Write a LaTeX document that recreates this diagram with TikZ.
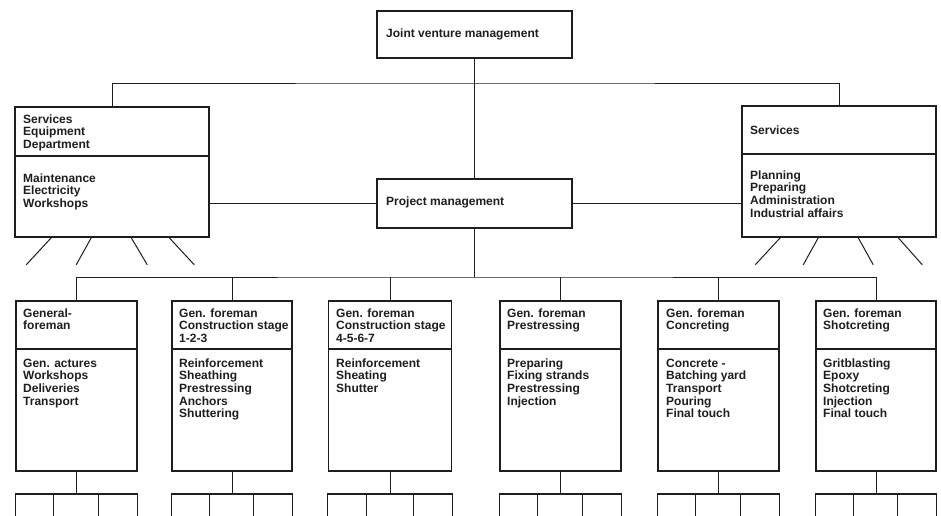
\documentclass[tikz,border=0pt]{standalone}
\usepackage{fontspec}
\setmainfont{Liberation Sans}
\definecolor{ink}{RGB}{30,30,30}
\begin{document}
\begin{tikzpicture}[x=1pt,y=-1pt,
  box/.style={draw=ink, line width=1.5pt, rectangle, inner sep=0pt},
  conn/.style={draw=ink, line width=1pt},
  cell/.style={draw=ink, line width=1.3pt},
  txt/.style={anchor=north west, inner sep=0pt, align=left, text=ink,
    font=\fontsize{12}{12.6}\selectfont\bfseries}]
\path[use as bounding box, fill=white] (0,0) rectangle (941,515);
\newcommand\fl{\rule{0pt}{9pt}}
% boxes
\node[box, minimum width=195pt, minimum height=47pt] (jv) at (474.5,34.5) {};
\node[box, minimum width=195pt, minimum height=49pt] (pm) at (474.5,203.5) {};
\node[box, minimum width=194pt, minimum height=130pt] (sed) at (112,172) {};
\node[box, minimum width=194pt, minimum height=131pt] (srv) at (839,171.5) {};
\node[box, minimum width=121pt, minimum height=170pt] (g1) at (76.5,386) {};
\node[box, minimum width=120pt, minimum height=170pt] (g2) at (232,386) {};
\node[box, minimum width=123pt, minimum height=170pt] (g3) at (390,386) {};
\node[box, minimum width=121pt, minimum height=170pt] (g4) at (560.5,386) {};
\node[box, minimum width=121pt, minimum height=170pt] (g5) at (718.5,386) {};
\node[box, minimum width=120pt, minimum height=170pt] (g6) at (876,386) {};
% dividers
\coordinate (dl) at (0,156);
\coordinate (dr) at (0,154);
\coordinate (dg) at (0,349);
\draw[box] (sed.west |- dl) -- (sed.east |- dl);
\draw[box] (srv.west |- dr) -- (srv.east |- dr);
\foreach \n in {g1,g2,g3,g4,g5,g6}
  \draw[box] (\n.west |- dg) -- (\n.east |- dg);
% texts
\node[txt] (jvt) at (386,28) {\fl Joint venture management};
\node[txt] (pmt) at (386,196) {\fl Project management};
\node[txt] (sedt) at (23,114) {\fl Services\\Equipment\\Department};
\node[txt] (sedb) at (23,173) {\fl Maintenance\\Electricity\\Workshops};
\node[txt] (srvt) at (750,125) {\fl Services};
\node[txt] (srvb) at (750,170) {\fl Planning\\Preparing\\Administration\\Industrial affairs};
\node[txt] (g1t) at (23,308) {\fl General-\\foreman};
\node[txt] (g1b) at (23,358) {\fl Gen. actures\\Workshops\\Deliveries\\Transport};
\node[txt] (g2t) at (179,308) {\fl Gen. foreman\\Construction stage\\1-2-3};
\node[txt] (g2b) at (179,358) {\fl Reinforcement\\Sheathing\\Prestressing\\Anchors\\Shuttering};
\node[txt] (g3t) at (336,308) {\fl Gen. foreman\\Construction stage\\4-5-6-7};
\node[txt] (g3b) at (336,358) {\fl Reinforcement\\Sheating\\Shutter};
\node[txt] (g4t) at (507,308) {\fl Gen. foreman\\Prestressing};
\node[txt] (g4b) at (507,358) {\fl Preparing\\Fixing strands\\Prestressing\\Injection};
\node[txt] (g5t) at (666,308) {\fl Gen. foreman\\Concreting};
\node[txt] (g5b) at (666,358) {\fl Concrete -\\Batching yard\\Transport\\Pouring\\Final touch};
\node[txt] (g6t) at (823,308) {\fl Gen. foreman\\Shotcreting};
\node[txt] (g6b) at (823,358) {\fl Gritblasting\\Epoxy\\Shotcreting\\Injection\\Final touch};
% connectors
\coordinate (bar1) at (474.5,83);
\coordinate (bar2) at (474.5,277);
\draw[conn] (jv.south) -- (pm.north);
\draw[conn] (sed.north) |- (bar1) -| (srv.north);
\draw[conn] (sed.east |- pm.west) -- (pm.west);
\draw[conn] (pm.east) -- (srv.west |- pm.east);
\draw[conn] (pm.south) -- (bar2);
\draw[conn] (g1.north) |- (bar2) -| (g6.north);
\foreach \n in {g2,g3,g4,g5}
  \draw[conn] (\n.north) -- (\n.north |- bar2);
% diagonals
\foreach \a/\b in {37/12,77/62,117/133,155/180}
  \draw[conn] ([xshift=\a pt]sed.south west) -- ([xshift=\b pt, yshift=-27pt]sed.south west);
\foreach \a/\b in {39/14,77/62,117/132,157/181}
  \draw[conn] ([xshift=\a pt]srv.south west) -- ([xshift=\b pt, yshift=-27pt]srv.south west);
% cells below
\coordinate (cellrow) at (0,494);
\coordinate (botedge) at (0,516);
\foreach \n in {g1,g2,g3,g4,g5,g6} {
  \draw[conn] (\n.south) -- (\n.south |- cellrow);
  \draw[cell] (\n.south west |- botedge) -- (\n.south west |- cellrow) -- (\n.south east |- cellrow) -- (\n.south east |- botedge);
  \draw[cell] ([xshift=38.5pt]\n.south west |- cellrow) -- ([xshift=38.5pt]\n.south west |- botedge);
  \draw[cell] ([xshift=-39pt]\n.south east |- cellrow) -- ([xshift=-39pt]\n.south east |- botedge);
}
\end{tikzpicture}
\end{document}
